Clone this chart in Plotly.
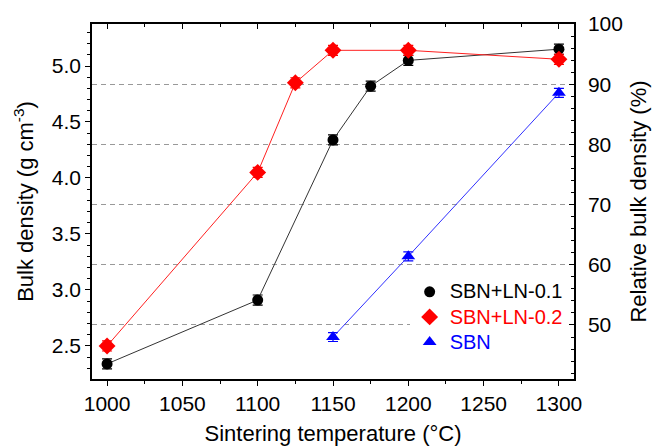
import plotly.graph_objects as go

# ---- data ----
temp_ln01 = [1000, 1100, 1150, 1175, 1200, 1300]
dens_ln01 = [2.34, 2.91, 4.34, 4.82, 5.05, 5.15]
err_ln01 = [0.045, 0.045, 0.045, 0.045, 0.045, 0.045]

temp_ln02 = [1000, 1100, 1125, 1150, 1200, 1300]
dens_ln02 = [2.50, 4.05, 4.85, 5.14, 5.14, 5.06]
err_ln02 = [0.045, 0.045, 0.045, 0.045, 0.045, 0.045]

temp_sbn = [1150, 1200, 1300]
dens_sbn = [2.58, 3.30, 4.76]
err_sbn = [0.04, 0.04, 0.04]

theoretical_density = 5.375
left_range = [2.205, 5.375]
right_range = [v / theoretical_density * 100 for v in left_range]
x_range = [990, 1310]

FONT = "Liberation Sans, Arial, sans-serif"
FS_TICK = 21
FS_TITLE = 22

series = [
    ("SBN+LN-0.1", temp_ln01, dens_ln01, err_ln01, "#000000", "#333333", "circle", 11),
    ("SBN+LN-0.2", temp_ln02, dens_ln02, err_ln02, "#ff0000", "#ff2020", "diamond", 13),
    ("SBN", temp_sbn, dens_sbn, err_sbn, "#0000ff", "#3030ff", "triangle-up", 12),
]

fig = go.Figure()
for name, xs, ys, es, mcol, lcol, sym, size in series:
    fig.add_trace(go.Scatter(
        x=xs, y=ys, mode="lines+markers", showlegend=False,
        line=dict(color=lcol, width=1),
        marker=dict(color=mcol, symbol=sym, size=size),
        error_y=dict(type="data", array=es, visible=True, color=mcol,
                     thickness=1.2, width=5),
    ))
for name, xs, ys, es, mcol, lcol, sym, size in series:
    fig.add_trace(go.Scatter(
        x=[None], y=[None], mode="markers",
        name=f'<span style="color:{mcol};font-size:20px">{name}</span>',
        marker=dict(color=mcol, symbol=sym, size=size),
    ))
# helper trace for top/right axes
fig.add_trace(go.Scatter(x=[None], y=[None], xaxis="x2", yaxis="y2",
                         showlegend=False, hoverinfo="skip"))

tickfont = dict(family=FONT, size=FS_TICK, color="black")
titlefont = dict(family=FONT, size=FS_TITLE, color="black")

fig.update_layout(
    width=654, height=446,
    margin=dict(l=92, r=80, t=24, b=67, autoexpand=False),
    paper_bgcolor="white", plot_bgcolor="white",
    font=dict(family=FONT, size=FS_TICK, color="black"),
    xaxis=dict(
        range=x_range, dtick=50, tick0=1000, tickfont=tickfont,
        ticks="outside", ticklen=5, tickwidth=1.2, tickcolor="black",
        minor=dict(dtick=25, tick0=1000, ticks="outside", ticklen=3, tickcolor="black"),
        showline=True, linecolor="black", linewidth=1.5,
        showgrid=False, zeroline=False,
        title=dict(text="Sintering temperature (°C)", standoff=14, font=titlefont),
        automargin=False,
    ),
    xaxis2=dict(
        range=x_range, overlaying="x", side="top", dtick=50, tick0=1000,
        ticks="inside", ticklen=5, tickwidth=1.2, tickcolor="black",
        minor=dict(dtick=25, tick0=1000, ticks="inside", ticklen=3, tickcolor="black"),
        showline=True, linecolor="black", linewidth=1.5,
        showticklabels=False, showgrid=False, zeroline=False,
    ),
    yaxis=dict(
        range=left_range, dtick=0.5, tick0=2.5, tickformat=".1f", tickfont=tickfont,
        ticks="outside", ticklen=5, tickwidth=1.2, tickcolor="black",
        minor=dict(dtick=0.1, tick0=2.5, ticks="outside", ticklen=3, tickcolor="black"),
        showline=True, linecolor="black", linewidth=1.5,
        showgrid=False, zeroline=False,
        title=dict(text="Bulk density (g cm<sup>-3</sup>)", standoff=12, font=titlefont),
        automargin=False,
    ),
    yaxis2=dict(
        range=right_range, overlaying="y", side="right", anchor="x",
        dtick=10, tick0=50, tickfont=tickfont,
        ticks="inside", ticklen=5, tickwidth=1.2, tickcolor="black",
        minor=dict(dtick=2, tick0=50, ticks="inside", ticklen=3, tickcolor="black"),
        showline=True, linecolor="black", linewidth=1.5,
        showgrid=True, gridcolor="#999999", griddash="5px,4px", gridwidth=1,
        zeroline=False, ticklabelstandoff=8,
        title=dict(text="Relative bulk density (%)", standoff=9, font=titlefont),
        automargin=False,
    ),
    legend=dict(
        x=0.659, y=0.295, xanchor="left", yanchor="top",
        bgcolor="white", borderwidth=0,
        font=dict(family=FONT, size=17),
        itemwidth=30, tracegroupgap=0,
    ),
)

fig.write_html("out.html")
